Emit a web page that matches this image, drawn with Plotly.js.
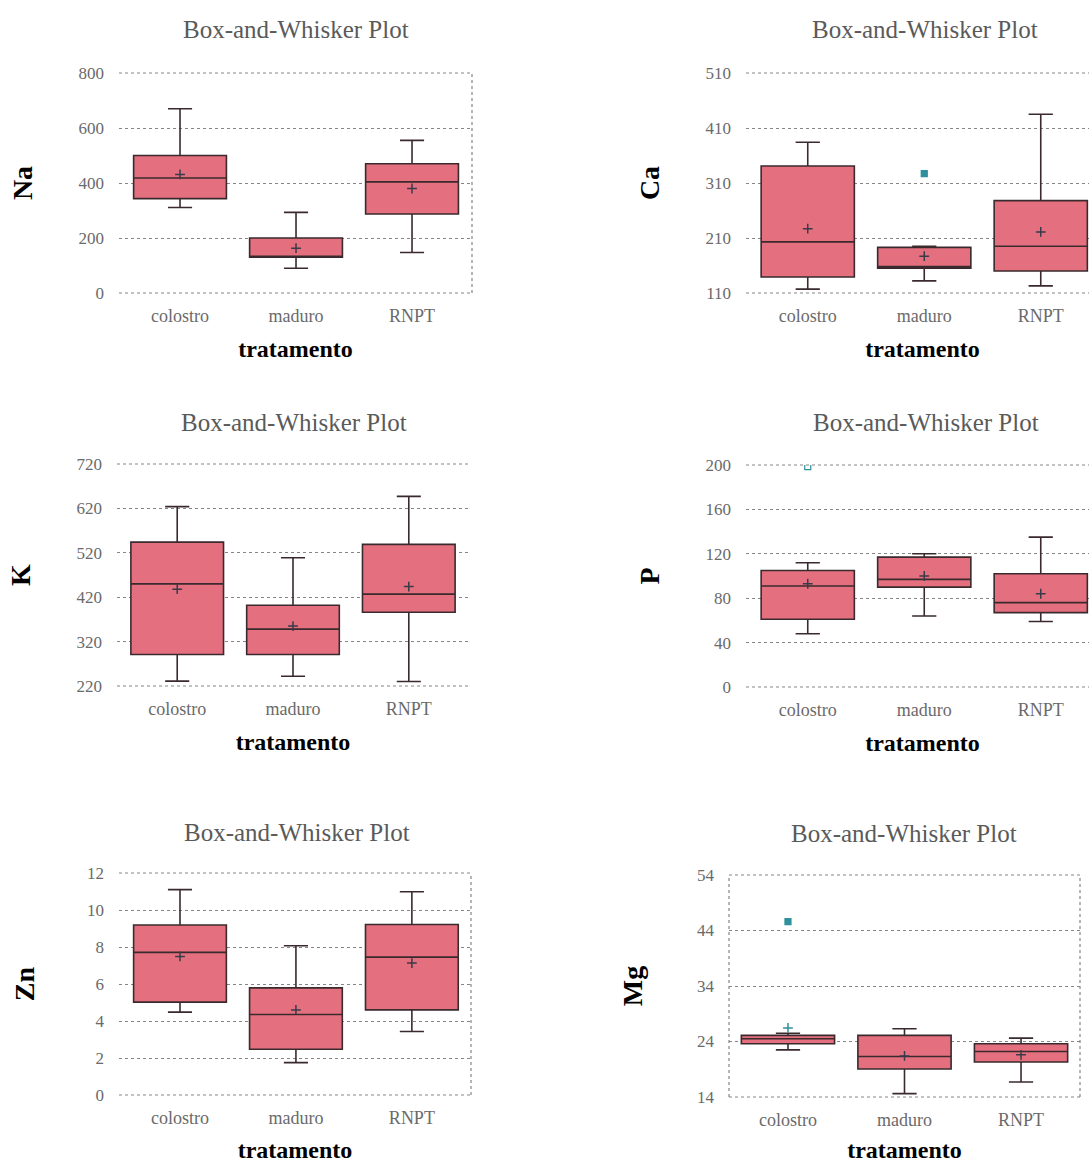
<!DOCTYPE html>
<html>
<head>
<meta charset="utf-8">
<script src="https://cdn.plot.ly/plotly-3.0.1.min.js"></script>
<style>
  html, body { margin: 0; padding: 0; overflow: hidden; background: #fff; }
  #chart { width: 1100px; height: 1163px; }
</style>
</head>
<body>
<div id="chart"></div>
<script>
// ---------- DATA ----------
const categories = ['colostro', 'maduro', 'RNPT'];

const naLower  = [311, 90, 147];
const naQ1     = [343, 130, 287];
const naMedian = [418, 132, 404];
const naQ3     = [500, 200, 470];
const naUpper  = [670, 293, 555];
const naMean   = [431, 163, 380];

const caLower  = [117, 132, 123];
const caQ1     = [139, 155, 150];
const caMedian = [203, 158, 195];
const caQ3     = [341, 193, 278];
const caUpper  = [384, 195, 435];
const caMean   = [227, 177, 221];
const caOutX   = ['maduro'];
const caOutY   = [327];

const kLower   = [231, 242, 230];
const kQ1      = [291, 291, 386];
const kMedian  = [450, 348, 427];
const kQ3      = [544, 402, 539];
const kUpper   = [624, 509, 647];
const kMean    = [438, 355, 444];

const pLower   = [48, 64, 59];
const pQ1      = [61, 90, 67];
const pMedian  = [91, 97, 76];
const pQ3      = [105, 117, 102];
const pUpper   = [112, 120, 135];
const pMean    = [93, 100, 84];
const pOutX    = ['colostro'];
const pOutY    = [198.5];

const znLower  = [4.48, 1.75, 3.43];
const znQ1     = [5.02, 2.47, 4.6];
const znMedian = [7.71, 4.35, 7.45];
const znQ3     = [9.19, 5.79, 9.22];
const znUpper  = [11.1, 8.07, 10.99];
const znMean   = [7.49, 4.6, 7.13];

const mgLower  = [22.5, 14.6, 16.7];
const mgQ1     = [23.6, 19.05, 20.3];
const mgMedian = [24.5, 21.3, 22.2];
const mgQ3     = [25.1, 25.1, 23.6];
const mgUpper  = [25.5, 26.3, 24.6];
const mgMean   = [26.45, 21.4, 21.6];
const mgOutX   = ['colostro'];
const mgOutY   = [45.6];

const yLabels = ['Na', 'Ca', 'K', 'P', 'Zn', 'Mg'];
const plotTitle = 'Box-and-Whisker Plot';
const xLabel = 'tratamento';

// ---------- LAYOUT HELPERS ----------
const W = 1100, H = 1163;
const SERIF = 'Liberation Serif, Times New Roman, serif';
const BOX_FILL = '#e4707f';
const BOX_LINE = '#3a2a2d';
const TEAL = '#2f8f9c';
const GRID = '#858585';

function xd(a, b) { return [a / W, b / W]; }
function yd(top, bottom) { return [1 - bottom / H, 1 - top / H]; }

const panels = [
  { stats: [naLower, naQ1, naMedian, naQ3, naUpper, naMean], out: null,
    xdom: xd(119, 472), ydom: yd(73, 293), yr: [0, 800], tick0: 0, dtick: 200, xr: [-0.526, 2.517],
    title: [296, 29], border: ['right'], ystand: 37 },
  { stats: [caLower, caQ1, caMedian, caQ3, caUpper, caMean], out: [caOutX, caOutY, 'square'],
    xdom: xd(746, 1099), ydom: yd(73, 293), yr: [110, 510], tick0: 110, dtick: 100, xr: [-0.53, 2.5],
    title: [925, 29], border: [], ystand: 37 },
  { stats: [kLower, kQ1, kMedian, kQ3, kUpper, kMean], out: null,
    xdom: xd(117, 469), ydom: yd(464, 686), yr: [220, 720], tick0: 220, dtick: 100, xr: [-0.52, 2.52],
    title: [294, 422], border: [], ystand: 37 },
  { stats: [pLower, pQ1, pMedian, pQ3, pUpper, pMean], out: [pOutX, pOutY, 'square-open'],
    xdom: xd(746, 1099), ydom: yd(465, 687), yr: [0, 200], tick0: 0, dtick: 40, xr: [-0.53, 2.5],
    title: [926, 422], border: [], ystand: 37 },
  { stats: [znLower, znQ1, znMedian, znQ3, znUpper, znMean], out: null,
    xdom: xd(119, 471), ydom: yd(873, 1095), yr: [0, 12], tick0: 0, dtick: 2, xr: [-0.526, 2.51],
    title: [297, 832], border: ['right'], ystand: 44 },
  { stats: [mgLower, mgQ1, mgMedian, mgQ3, mgUpper, mgMean], out: [mgOutX, mgOutY, 'square'],
    xdom: xd(729, 1080), ydom: yd(875, 1097), yr: [14, 54], tick0: 14, dtick: 10, xr: [-0.506, 2.506],
    title: [904, 833], border: ['left', 'right'], ystand: 46 }
];

const data = [];
const layout = {
  width: W, height: H,
  margin: { l: 0, r: 0, t: 0, b: 0 },
  paper_bgcolor: '#ffffff', plot_bgcolor: '#ffffff',
  showlegend: false,
  annotations: [], shapes: []
};

panels.forEach((p, i) => {
  const n = i + 1;
  const xa = 'x' + (n === 1 ? '' : n);
  const ya = 'y' + (n === 1 ? '' : n);
  const [lo, q1, med, q3, up, mean] = p.stats;

  data.push({
    type: 'box', xaxis: xa, yaxis: ya,
    x: categories, q1: q1, median: med, q3: q3, lowerfence: lo, upperfence: up,
    boxpoints: false, width: 0.8, whiskerwidth: 0.26,
    fillcolor: BOX_FILL, line: { color: BOX_LINE, width: 1.6 },
    hoverinfo: 'skip'
  });
  data.push({
    type: 'scatter', mode: 'markers', xaxis: xa, yaxis: ya,
    x: categories, y: mean,
    marker: { symbol: 'cross-thin', size: 7,
      line: { width: 1.5, color: categories.map((c, k) => (n === 6 && k === 0) ? TEAL : '#3a3a4a') } },
    hoverinfo: 'skip'
  });
  if (p.out) {
    data.push({
      type: 'scatter', mode: 'markers', xaxis: xa, yaxis: ya,
      x: p.out[0], y: p.out[1],
      marker: { symbol: p.out[2], size: 6, color: TEAL, line: { width: 1.2, color: TEAL } },
      hoverinfo: 'skip'
    });
  }

  layout['xaxis' + (n === 1 ? '' : n)] = {
    domain: p.xdom, anchor: ya, type: 'category',
    categoryorder: 'array', categoryarray: categories,
    range: p.xr, showgrid: false, zeroline: false, showline: false, ticks: '',
    ticklabelstandoff: 10,
    tickfont: { family: SERIF, size: 18, color: '#6a6a6a' },
    title: { text: xLabel, standoff: 15,
      font: { family: SERIF, size: 24, color: '#000', weight: 'bold' } },
    fixedrange: true
  };
  layout['yaxis' + (n === 1 ? '' : n)] = {
    domain: p.ydom, anchor: xa, range: p.yr,
    tickmode: 'linear', tick0: p.tick0, dtick: p.dtick,
    showgrid: true, gridcolor: GRID, gridwidth: 1, griddash: 'dot',
    zeroline: false, showline: false, ticks: '',
    ticklabelstandoff: 14,
    tickfont: { family: SERIF, size: 17, color: '#6a6a6a' },
    title: { text: yLabels[i], standoff: p.ystand,
      font: { family: SERIF, size: 28, color: '#000', weight: 'bold' } },
    fixedrange: true
  };

  layout.annotations.push({
    text: plotTitle, xref: 'paper', yref: 'paper',
    x: p.title[0] / W, y: 1 - p.title[1] / H,
    xanchor: 'center', yanchor: 'middle', showarrow: false,
    font: { family: SERIF, size: 25, color: '#5a5a5a' }
  });

  // dotted gridlines at the top and bottom edges of each plot area
  [0, 1].forEach(yv => {
    layout.shapes.push({
      type: 'line', xref: xa + ' domain', yref: ya + ' domain',
      x0: 0, x1: 1, y0: yv, y1: yv, layer: 'below',
      line: { color: GRID, width: 1, dash: 'dot' }
    });
  });

  p.border.forEach(side => {
    const xv = side === 'right' ? 1 : 0;
    layout.shapes.push({
      type: 'line', xref: xa + ' domain', yref: ya + ' domain',
      x0: xv, x1: xv, y0: 0, y1: 1,
      line: { color: GRID, width: 1.2, dash: 'dot' }
    });
  });
});

Plotly.newPlot('chart', data, layout, { staticPlot: true, displayModeBar: false });
</script>
</body>
</html>
